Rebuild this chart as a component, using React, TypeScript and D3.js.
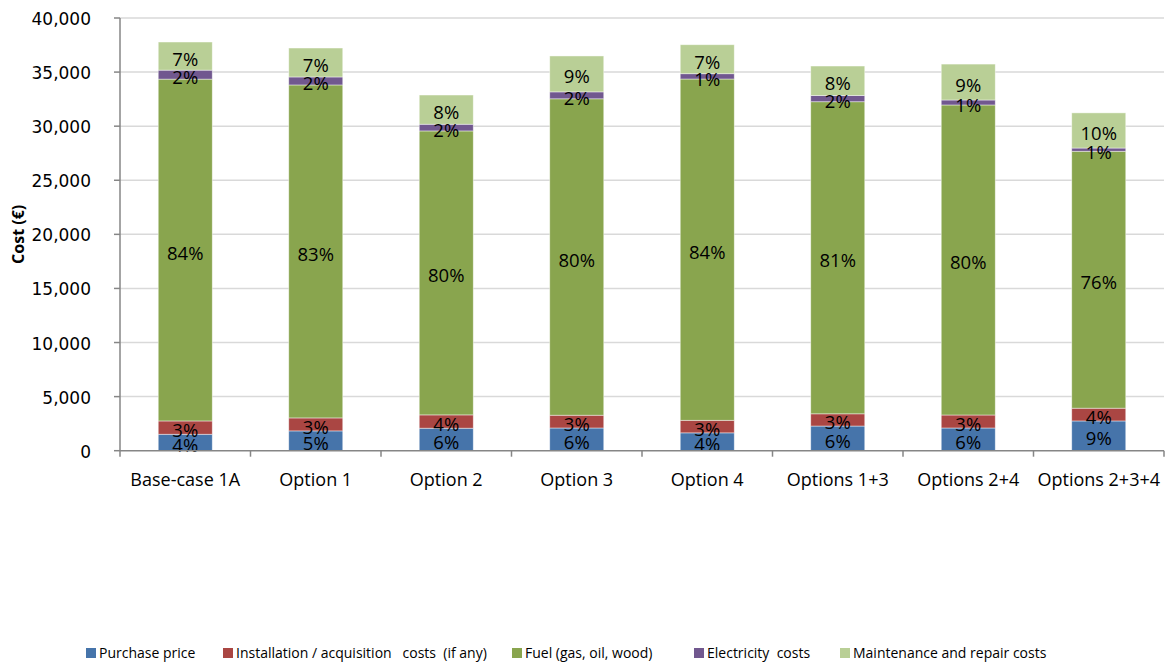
import React from "react";
import * as d3 from "d3";

// Heating system cost breakdown per option (€)
const categories = [
  "Base-case 1A",
  "Option 1",
  "Option 2",
  "Option 3",
  "Option 4",
  "Options 1+3",
  "Options 2+4",
  "Options 2+3+4",
];
const purchase = [1520, 1830, 2080, 2100, 1650, 2280, 2100, 2750];
const installation = [1230, 1200, 1230, 1180, 1160, 1130, 1200, 1180];
const fuel = [31600, 30780, 26250, 29250, 31550, 28850, 28660, 23750];
const electricity = [830, 740, 620, 640, 490, 580, 460, 300];
const maintenance = [2600, 2675, 2700, 3320, 2680, 2720, 3320, 3250];

const seriesNames = [
  "Purchase price",
  "Installation / acquisition   costs  (if any)",
  "Fuel (gas, oil, wood)",
  "Electricity  costs",
  "Maintenance and repair costs",
];
const yTicks = [0, 5000, 10000, 15000, 20000, 25000, 30000, 35000, 40000];

const colors = ["#4674AA", "#AA4643", "#89A54E", "#71588F", "#B9CF96"];
const legendX = [86, 223, 512, 694, 840];

const W = 1168;
const H = 664;
const plotLeft = 120;
const plotRight = 1164;
const plotTop = 18;
const plotBottom = 450.7;

export default function App() {
  const seriesValues = [purchase, installation, fuel, electricity, maintenance];
  const rows = categories.map((c, i) => {
    const row: Record<string, number | string> = { category: c };
    seriesNames.forEach((s, k) => {
      row[s] = seriesValues[k][i];
    });
    return row;
  });
  const stacked = d3.stack<Record<string, number | string>>().keys(seriesNames)(rows as any);
  const totals = categories.map((_, i) => d3.sum(seriesValues, (s) => s[i]));

  const x = d3.scaleBand<string>().domain(categories).range([plotLeft, plotRight]).padding(0);
  const y = d3.scaleLinear().domain([0, 40000]).range([plotBottom, plotTop]);
  const barW = x.bandwidth() * 0.414;
  const fmt = d3.format(",");

  const font = "'Open Sans', sans-serif";
  const tickFont = "'DejaVu Sans', sans-serif";

  return (
    <svg
      width={W}
      height={H}
      style={{ position: "absolute", left: 0, top: 0, background: "#fff" }}
    >
      {/* gridlines */}
      {yTicks
        .filter((t) => t > 0)
        .map((t) => (
          <line
            key={"g" + t}
            x1={plotLeft}
            x2={plotRight}
            y1={y(t)}
            y2={y(t)}
            stroke="#D9D9D9"
            strokeWidth={1.5}
          />
        ))}

      {/* stacked bars */}
      {stacked.map((layer, k) => (
        <g key={"s" + k} fill={colors[k]}>
          {layer.map((d, i) => (
            <rect
              key={i}
              x={(x(categories[i]) as number) + (x.bandwidth() - barW) / 2}
              y={y(d[1])}
              width={barW}
              height={y(d[0]) - y(d[1])}
              stroke="#ffffff"
              strokeOpacity={0.55}
              strokeWidth={0.8}
            />
          ))}
        </g>
      ))}

      {/* percentage labels */}
      {stacked.map((layer, k) =>
        layer.map((d, i) => (
          <text
            key={"l" + k + "-" + i}
            x={(x(categories[i]) as number) + x.bandwidth() / 2}
            y={(y(d[0]) + y(d[1])) / 2 + 2}
            textAnchor="middle"
            dominantBaseline="central"
            fontFamily={font}
            fontSize={18.5}
            fill="#000"
          >
            {Math.round(((d[1] - d[0]) / totals[i]) * 100) + "%"}
          </text>
        ))
      )}

      {/* y axis */}
      <line x1={plotLeft} x2={plotLeft} y1={plotTop} y2={plotBottom} stroke="#868686" strokeWidth={1.5} />
      {yTicks.map((t) => (
        <g key={"y" + t}>
          <line x1={plotLeft - 6} x2={plotLeft} y1={y(t)} y2={y(t)} stroke="#868686" strokeWidth={1.5} />
          <text
            x={91}
            y={y(t) + 1}
            textAnchor="end"
            dominantBaseline="central"
            fontFamily={tickFont}
            fontSize={17}
            fill="#000"
          >
            {fmt(t)}
          </text>
        </g>
      ))}

      {/* x axis */}
      <line x1={plotLeft} x2={plotRight} y1={plotBottom} y2={plotBottom} stroke="#868686" strokeWidth={1.5} />
      {[...categories.map((c) => x(c) as number), plotRight].map((px, i) => (
        <line key={"xt" + i} x1={px} x2={px} y1={plotBottom} y2={plotBottom + 6} stroke="#868686" strokeWidth={1.5} />
      ))}
      {categories.map((c) => (
        <text
          key={"xl" + c}
          x={(x(c) as number) + x.bandwidth() / 2}
          y={485.5}
          textAnchor="middle"
          fontFamily={font}
          fontSize={18}
          fill="#000"
        >
          {c}
        </text>
      ))}

      {/* y axis title */}
      <text
        transform={`translate(24, ${(plotTop + plotBottom) / 2}) rotate(-90)`}
        textAnchor="middle"
        fontFamily={font}
        fontWeight="bold"
        fontSize={16}
        fill="#000"
      >
        Cost (€)
      </text>

      {/* legend */}
      {seriesNames.map((s, k) => (
        <g key={"lg" + k}>
          <rect x={legendX[k]} y={648} width={10} height={10} fill={colors[k]} />
          <text
            x={legendX[k] + 13}
            y={658}
            fontFamily={font}
            fontSize={14}
            fill="#000"
            style={{ whiteSpace: "pre" }}
          >
            {s}
          </text>
        </g>
      ))}
    </svg>
  );
}
